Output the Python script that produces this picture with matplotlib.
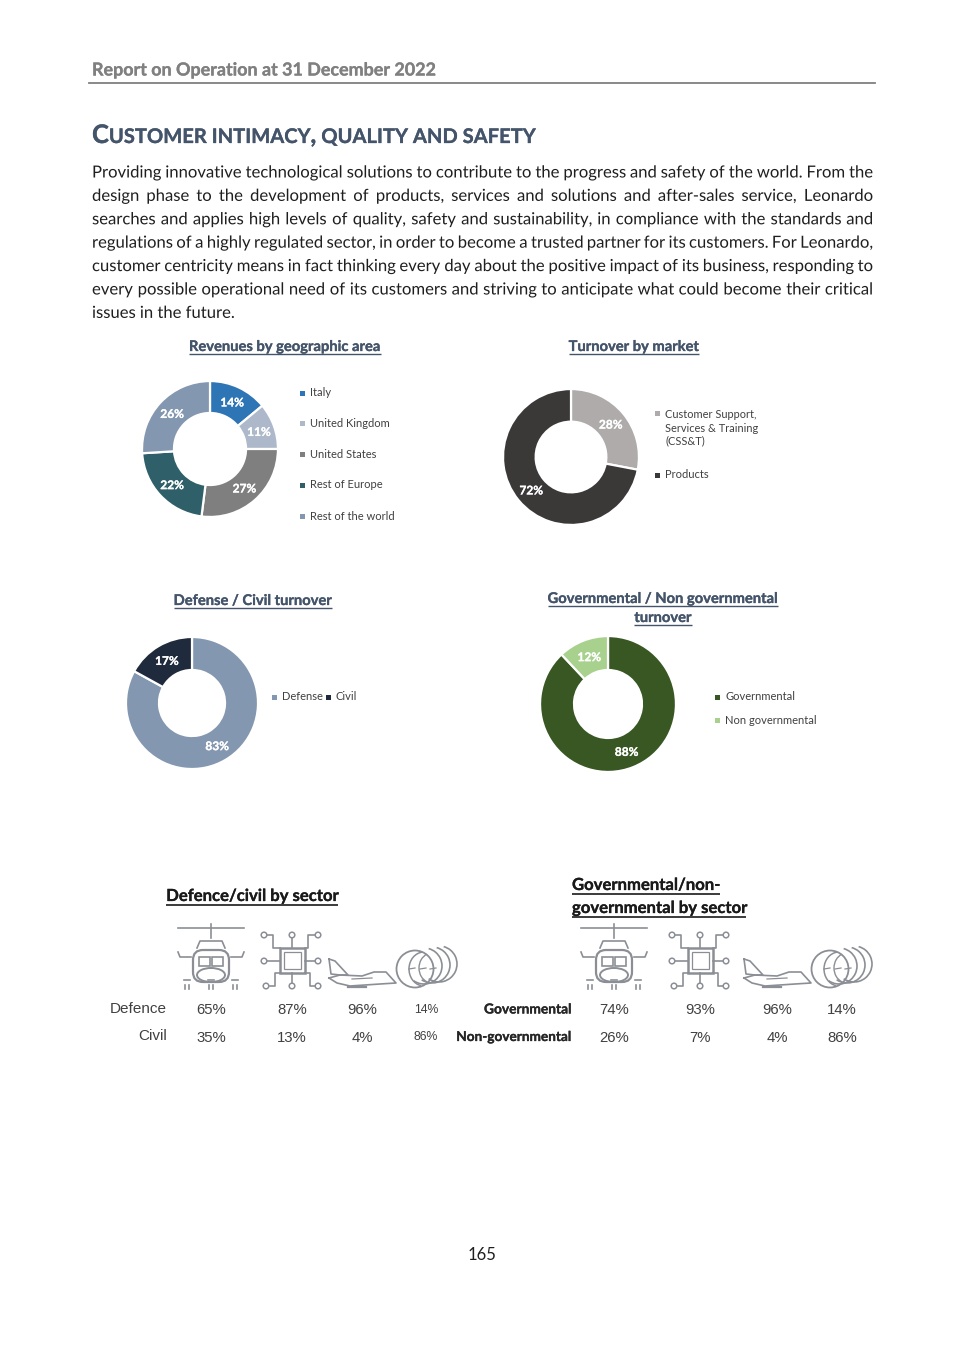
import matplotlib
matplotlib.use('Agg')
import matplotlib.pyplot as plt
import matplotlib.patheffects as pe
from matplotlib.patches import Circle, Ellipse, FancyBboxPatch, Rectangle, Arc

W, H = 965, 1365
FONT = 'Lato'
ARIAL = 'Liberation Sans'
BODY = 12.0

# donut data
geo_labels = ['Italy', 'United Kingdom', 'United States', 'Rest of Europe', 'Rest of the world']
geo_values = [14, 11, 27, 22, 26]
geo_colors = ['#2e75b6', '#adb9ca', '#7f7f7f', '#2f5f68', '#8497b0']

market_labels = ['Customer Support,\nServices & Training\n(CSS&T)', 'Products']
market_values = [28, 72]
market_colors = ['#afabab', '#3b3838']

defense_labels = ['Defense', 'Civil']
defense_values = [83, 17]
defense_colors = ['#8497b0', '#1f2a3c']

gov_labels = ['Governmental', 'Non governmental']
gov_values = [88, 12]
gov_colors = ['#385723', '#a9d18e']

# sector tables
defence_row = ['65%', '87%', '96%', '14%']
civil_row = ['35%', '13%', '4%', '86%']
governmental_row = ['74%', '93%', '96%', '14%']
non_gov_row = ['26%', '7%', '4%', '86%']

body_lines = [
    'Providing innovative technological solutions to contribute to the progress and safety of the world. From the',
    'design phase to the development of products, services and solutions and after-sales service, Leonardo',
    'searches and applies high levels of quality, safety and sustainability, in compliance with the standards and',
    'regulations of a highly regulated sector, in order to become a trusted partner for its customers. For Leonardo,',
    'customer centricity means in fact thinking every day about the positive impact of its business, responding to',
    'every possible operational need of its customers and striving to anticipate what could become their critical',
    'issues in the future.',
]

fig = plt.figure(figsize=(W / 100, H / 100), dpi=100, facecolor='white')
page = fig.add_axes([0, 0, 1, 1])
page.set_xlim(0, W)
page.set_ylim(H, 0)
page.axis('off')
renderer = fig.canvas.get_renderer()


def text_width(s, **kw):
    t = page.text(0, 0, s, **kw)
    w = t.get_window_extent(renderer).width
    t.remove()
    return w


def bold_text(x, y, s, size, color, ha='left', va='center', stroke=0.2):
    # Lato bold comes out lighter than the report's face, so thicken it a little
    t = page.text(x, y, s, fontsize=size, fontweight='bold', family=FONT, color=color, ha=ha, va=va)
    t.set_path_effects([pe.withStroke(linewidth=stroke, foreground=color)])
    return t


def title(x, y, s, size=10.6, color='#44546a', ha='center', lw=1.0, gap=7):
    w = text_width(s, fontsize=size, fontweight='bold', family=FONT)
    bold_text(x, y, s, size, color, ha=ha)
    x0 = x - w / 2 if ha == 'center' else x
    page.plot([x0, x0 + w], [y + gap, y + gap], color=color, lw=lw, solid_capstyle='butt')


def donut(cx, cy, r, values, colors, hole):
    ax = fig.add_axes([(cx - r - 2) / W, 1 - (cy + r + 2) / H, (2 * r + 4) / W, (2 * r + 4) / H])
    _, _, pcts = ax.pie(values, colors=colors, startangle=90, counterclock=False, radius=1,
                        wedgeprops=dict(width=1 - hole, edgecolor='white', linewidth=1.6),
                        autopct='%d%%', pctdistance=(1 + hole) / 2,
                        textprops=dict(color='white', fontsize=8.6, fontweight='bold', family=FONT))
    for p in pcts:
        p.set_va('center_baseline')
        p.set_path_effects([pe.withStroke(linewidth=0.2, foreground='white')])
    ax.set_xlim(-1.03, 1.03)
    ax.set_ylim(-1.03, 1.03)
    ax.set_aspect('equal')


def legend_item(x, y, s, color):
    page.add_patch(Rectangle((x, y - 2.5), 5, 5, color=color, lw=0))
    page.text(x + 10, y, s, fontsize=8.0, family=FONT, color='#404040', va='center', linespacing=1.25)


ICON = '#8b8f95'


def helicopter(dx):
    kw = dict(color=ICON, lw=1.2)
    page.plot([178 + dx, 244 + dx], [928, 928], **kw)
    page.plot([211 + dx, 211 + dx], [924, 938], **kw)
    page.plot([197 + dx, 200 + dx, 222 + dx, 225 + dx], [948, 941, 941, 948], **kw)
    page.plot([178 + dx, 180 + dx, 191 + dx], [952, 957, 957], **kw)
    page.plot([244 + dx, 242 + dx, 231 + dx], [952, 957, 957], **kw)
    page.add_patch(FancyBboxPatch((193 + dx, 950), 36, 32, boxstyle='round,pad=0,rounding_size=10',
                                  fc='none', ec=ICON, lw=1.6))
    page.add_patch(Rectangle((199 + dx, 957), 11, 9, fc='none', ec=ICON, lw=1.2))
    page.add_patch(Rectangle((212 + dx, 957), 11, 9, fc='none', ec=ICON, lw=1.2))
    page.add_patch(Ellipse((211 + dx, 975), 28, 14, fc='white', ec=ICON, lw=1.4))
    for sx in (187, 211, 235):
        page.plot([sx - 3 + dx, sx + 3 + dx], [980, 980], **kw)
        page.plot([sx - 2 + dx, sx - 2 + dx], [985, 989], **kw)
        page.plot([sx + 2 + dx, sx + 2 + dx], [985, 989], **kw)


def chip(dx):
    kw = dict(color=ICON, lw=1.2)
    page.add_patch(Rectangle((280 + dx, 948), 25, 25, fc='none', ec=ICON, lw=1.8))
    page.add_patch(Rectangle((284 + dx, 952), 17, 17, fc='none', ec=ICON, lw=0.9))
    wires = [([267, 273, 273, 280], [935, 935, 948, 948]),
             ([292, 292], [938, 948]),
             ([315, 308, 308, 305], [935, 935, 948, 948]),
             ([267, 280], [961, 961]),
             ([305, 315], [961, 961]),
             ([270, 275, 275, 280], [986, 986, 973, 973]),
             ([292, 292], [973, 983]),
             ([315, 310, 310, 305], [986, 986, 973, 973])]
    for xs, ys in wires:
        page.plot([v + dx for v in xs], ys, **kw)
    for nx, ny in [(264, 935), (292, 935), (318, 935), (264, 961), (318, 961),
                   (266, 986), (292, 986), (318, 986)]:
        page.add_patch(Circle((nx + dx, ny), 2.8, fc='white', ec=ICON, lw=1.1))


def plane(dx):
    kw = dict(color=ICON, lw=1.2)
    page.plot([v + dx for v in (329, 335, 348, 340, 331, 329)], [959, 961, 975, 975, 974, 959], **kw)
    page.plot([v + dx for v in (329, 340, 362, 374, 386, 396, 380, 350, 337, 329)],
              [978, 975, 976, 972, 972, 983, 984, 986, 983, 978], **kw)
    page.plot([v + dx for v in (348, 366)], [987, 987], color=ICON, lw=1.6)
    page.plot([v + dx for v in (352, 372)], [979, 978], color=ICON, lw=0.9)


def turbine(dx):
    page.add_patch(Circle((415 + dx, 969), 18.5, fc='none', ec=ICON, lw=1.3))
    for i, ox in enumerate((424, 432, 439)):
        page.add_patch(Arc((ox + dx, 966 - i), 36, 36, theta1=-75, theta2=125, ec=ICON, lw=1.2))
    page.add_patch(Arc((424 + dx, 969), 30, 34, theta1=100, theta2=265, ec=ICON, lw=1.1))
    page.add_patch(Arc((432 + dx, 968), 26, 30, theta1=110, theta2=250, ec=ICON, lw=1))
    for ox in (409, 420, 430):
        page.plot([ox + dx, ox + 6 + dx], [969, 968], color=ICON, lw=0.9)


# header
bold_text(92, 70, 'Report on Operation at 31 December 2022', 12.9, '#808080')
page.plot([89, 875], [83, 83], color='#808080', lw=1.3)

# small caps heading
x = 92
for piece, size in [('C', 18.4), ('USTOMER INTIMACY', 14.5), (',', 18.4), (' QUALITY AND SAFETY', 14.5)]:
    bold_text(x, 143, piece, size, '#44546a', va='baseline')
    x += text_width(piece.replace(' ', '\u00a0'), fontsize=size, fontweight='bold', family=FONT)

# justified paragraph, drawn as paths so the words share one baseline
left, right = 92, 873
space = text_width('a b', fontsize=BODY, family=FONT) - text_width('ab', fontsize=BODY, family=FONT)
for i, line in enumerate(body_lines):
    y = 177.5 + i * 23.4
    words = line.split()
    widths = [text_width(w, fontsize=BODY, family=FONT) for w in words]
    if i == len(body_lines) - 1:
        gap = space
    else:
        gap = (right - left - sum(widths)) / (len(words) - 1)
    x = left
    for w, wd in zip(words, widths):
        t = page.text(x, y, w, fontsize=BODY, family=FONT, color='#1f1f1f', va='baseline')
        t.set_path_effects([pe.Normal()])
        x += wd + gap

# donuts
title(285, 347, 'Revenues by geographic area')
donut(210, 449, 68, geo_values, geo_colors, 0.53)
for lab, col, ly in zip(geo_labels, geo_colors, [393, 423.5, 454.5, 485, 516]):
    legend_item(300, ly, lab, col)

title(634, 347, 'Turnover by market')
donut(571, 457, 68, market_values, market_colors, 0.52)
legend_item(655, 413.5, '', market_colors[0])
page.text(665, 428, market_labels[0], fontsize=7.9, family=FONT, color='#404040', va='center', linespacing=1.25)
legend_item(655, 475, market_labels[1], market_colors[1])

title(253, 601, 'Defense / Civil turnover')
donut(192, 703, 66, defense_values, defense_colors, 0.5)
legend_item(272, 697, defense_labels[0], defense_colors[0])
legend_item(326, 697, defense_labels[1], defense_colors[1])

title(663, 599, 'Governmental / Non governmental')
title(663, 618, 'turnover')
donut(608, 704, 68, gov_values, gov_colors, 0.5)
legend_item(715, 697, gov_labels[0], gov_colors[0])
legend_item(715, 720, gov_labels[1], gov_colors[1])

# sector panels
title(252, 896, 'Defence/civil by sector', size=12, color='#1a1a1a', lw=1.2, gap=9)
title(572, 885, 'Governmental/non-', size=12, color='#1a1a1a', ha='left', lw=1.2, gap=9)
title(572, 908, 'governmental by sector', size=12, color='#1a1a1a', ha='left', lw=1.2, gap=9)

helicopter(0)
chip(0)
plane(0)
turbine(0)
helicopter(403)
chip(408)
plane(415)
turbine(415)

grey = '#404040'
page.text(167, 1009, 'Defence', fontsize=11, family=ARIAL, color=grey, ha='right', va='center')
page.text(167, 1036.5, 'Civil', fontsize=11, family=ARIAL, color=grey, ha='right', va='center')
left_cols = [211, 292, 362, 426]
for cx, top, bottom in zip(left_cols, defence_row, civil_row):
    size = 8.8 if cx == 426 else 10.7
    page.text(cx, 1010, top, fontsize=size, family=ARIAL, color=grey, ha='center', va='center')
    page.text(cx, 1037.5, bottom, fontsize=size, family=ARIAL, color=grey, ha='center', va='center')

bold_text(572, 1009.5, 'Governmental', 9.9, '#262626', ha='right')
bold_text(572, 1037, 'Non-governmental', 9.8, '#262626', ha='right')
right_cols = [614, 700, 777, 842]
for cx, top, bottom in zip(right_cols, governmental_row, non_gov_row):
    page.text(cx, 1010, top, fontsize=10.7, family=ARIAL, color=grey, ha='center', va='center')
    page.text(cx, 1037.5, bottom, fontsize=10.7, family=ARIAL, color=grey, ha='center', va='center')

page.text(482, 1255, '165', fontsize=BODY, family=FONT, color='#1f1f1f', ha='center', va='center')

fig.savefig('out.png', dpi=100, facecolor='white')
